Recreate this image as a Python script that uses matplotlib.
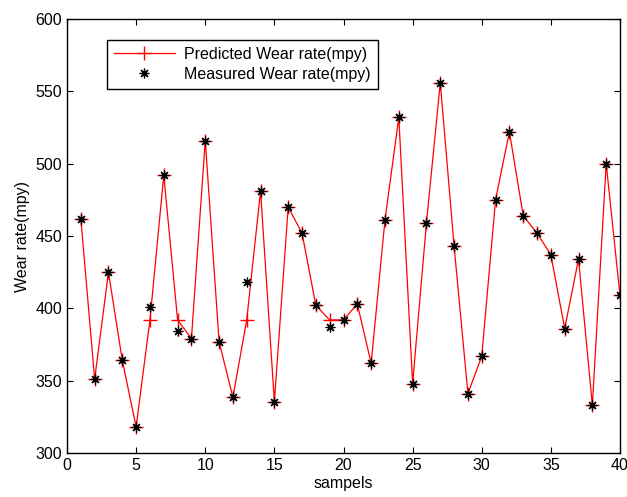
import matplotlib
matplotlib.use("Agg")
import matplotlib.pyplot as plt

samples = list(range(1, 41))
measured = [462, 351, 425, 364, 318, 401, 492, 384, 379, 516,
            377, 338.5, 418, 481, 335.5, 470, 452, 402, 387, 392,
            403, 362, 461, 532, 348, 459, 556, 443, 341, 367,
            475, 522, 464, 452, 437, 386, 434, 333, 500, 409]
predicted = [462, 351, 425, 364, 318, 392, 492, 392, 379, 516,
             377, 338.5, 392, 481, 335.5, 470, 452, 402, 392, 392,
             403, 362, 461, 532, 348, 459, 556, 443, 341, 367,
             475, 522, 464, 452, 437, 386, 434, 333, 500, 409]
xticks = [0, 5, 10, 15, 20, 25, 30, 35, 40]
yticks = [300, 350, 400, 450, 500, 550, 600]

plt.rcParams['font.family'] = ['Liberation Sans', 'DejaVu Sans']
plt.rcParams['font.size'] = 11.5

fig = plt.figure(figsize=(6.27, 4.97), dpi=100)
ax = fig.add_axes([67/627, 1-453/497, (620-67)/627, (453-19)/497])

ax.plot(samples, predicted, color='red', lw=0.9, marker='+', ms=10,
        mew=1.0, label='Predicted Wear rate(mpy)')
ax.plot(samples, measured, ls='none', color='black', marker=(8, 2, 0),
        ms=7, mew=0.9, label='Measured Wear rate(mpy)')

ax.set_xlim(0, 40)
ax.set_ylim(300, 600)
ax.set_xticks(xticks)
ax.set_yticks(yticks)
ax.tick_params(direction='in', top=True, right=True, length=4, width=0.8,
               labelsize=11.5)
for s in ax.spines.values():
    s.set_linewidth(1.0)
ax.set_xlabel('sampels', fontsize=11.5, labelpad=2)
ax.set_ylabel('Wear rate(mpy)', fontsize=11.5, labelpad=4)

leg = ax.legend(loc='upper left', bbox_to_anchor=(0.072, 0.952), fancybox=False,
                edgecolor='black', framealpha=1, fontsize=11.5,
                handlelength=3.8, handletextpad=0.6, borderpad=0.45,
                labelspacing=0.3, borderaxespad=0)
leg.get_frame().set_linewidth(1.0)

fig.savefig('out.png', dpi=100)
